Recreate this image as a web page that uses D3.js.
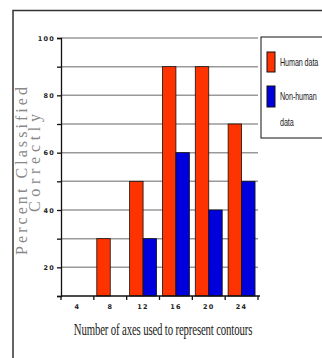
<!DOCTYPE html>
<html><head><meta charset="utf-8">
<script src="https://cdn.jsdelivr.net/npm/d3@7"></script>
<style>body{margin:0;background:#fff;}svg{display:block;}</style>
</head><body>
<script>
const categories = ["4","8","12","16","20","24"];
const humanData = [0,30,50,90,90,70];
const nonHumanData = [0,0,30,60,40,50];
const seriesNames = ["Human data","Non-human data"];
const yTickLabels = [20,40,60,80,100];

const W=322,H=358;
const svg=d3.select("body").append("svg").attr("width",W).attr("height",H);

// outer frame
svg.append("path").attr("d","M13,358 L13,10.5 L322,10.5").attr("fill","none").attr("stroke","#333").attr("stroke-width",1.5);

const x0=61,x1=258,yTop=38,yBot=296;
const x=d3.scaleBand().domain(categories).range([x0,x1]).paddingInner(0.18).paddingOuter(0.09);
const xs=d3.scaleBand().domain(seriesNames).range([0,x.bandwidth()]);
const y=d3.scaleLinear().domain([10,100]).range([yBot,yTop]);
const colors=["#ff3300","#0000dd"];

// gridlines
svg.append("g").selectAll("line").data(d3.range(20,101,10)).join("line")
  .attr("x1",x0).attr("x2",x1).attr("y1",d=>y(d)).attr("y2",d=>y(d))
  .attr("stroke","#999").attr("stroke-width",1.5);

// bars
const data=categories.map((c,i)=>({c,vals:[humanData[i],nonHumanData[i]]}));
svg.append("g").selectAll("g").data(data).join("g")
  .attr("transform",d=>`translate(${x(d.c)},0)`)
  .selectAll("rect").data(d=>d.vals.map((v,j)=>({v,j})).filter(e=>e.v>10)).join("rect")
  .attr("x",e=>xs(seriesNames[e.j])).attr("width",xs.bandwidth())
  .attr("y",e=>y(e.v)).attr("height",e=>y(10)-y(e.v))
  .attr("fill",e=>colors[e.j]).attr("stroke","#111").attr("stroke-width",0.8);

// y axis
const yAxis=d3.axisLeft(y).tickValues(d3.range(10,101,10)).tickSize(4)
  .tickFormat(d=>yTickLabels.includes(d)?d:"");
const ga=svg.append("g").attr("transform",`translate(${x0},0)`).call(yAxis);
ga.select(".domain").attr("stroke","#111").attr("stroke-width",1.3);
ga.selectAll(".tick line").attr("stroke","#111").attr("stroke-width",1.3);
ga.selectAll("text").attr("font-family","DejaVu Sans, sans-serif").attr("font-weight","bold")
  .attr("font-size",6.5).attr("letter-spacing",1.2).attr("fill","#222").attr("x",-6);

// x axis with boundary ticks
const xb=d3.scaleLinear().domain([0,categories.length]).range([x0,x1]);
const gx=svg.append("g").attr("transform",`translate(0,${yBot})`);
gx.append("line").attr("x1",x0).attr("x2",x1+2).attr("stroke","#111").attr("stroke-width",1.5);
gx.selectAll("line.t").data(d3.range(0,categories.length+1)).join("line").attr("class","t")
  .attr("x1",d=>xb(d)).attr("x2",d=>xb(d)).attr("y1",0).attr("y2",4).attr("stroke","#111").attr("stroke-width",1.3);
gx.selectAll("text").data(categories).join("text")
  .attr("x",(d,i)=>(xb(i)+xb(i+1))/2).attr("y",13).attr("text-anchor","middle")
  .attr("font-family","DejaVu Sans, sans-serif").attr("font-weight","bold").attr("font-size",6.5)
  .attr("letter-spacing",1.2).attr("fill","#222").text(d=>d);

// x title
svg.append("text").attr("transform","translate(163,335) scale(1,1.5)")
  .attr("text-anchor","middle").attr("font-family","Liberation Serif, serif")
  .attr("font-size",10.8).attr("letter-spacing",-0.15).attr("fill","#222")
  .text("Number of axes used to represent contours");

// y title
const yt=svg.append("text").attr("transform","rotate(-90)")
  .attr("font-family","Liberation Serif, serif").attr("font-size",16).attr("fill","#888");
yt.append("tspan").attr("x",-255).attr("y",27).attr("textLength",168).attr("lengthAdjust","spacing").text("Percent Classified");
yt.append("tspan").attr("x",-212).attr("y",40).attr("textLength",98).attr("lengthAdjust","spacing").text("Correctly");

// legend
const lg=svg.append("g");
lg.append("rect").attr("x",261).attr("y",37).attr("width",70).attr("height",101)
  .attr("fill","#fff").attr("stroke","#111").attr("stroke-width",1);
lg.selectAll("rect.sw").data(seriesNames).join("rect").attr("class","sw")
  .attr("x",267).attr("y",(d,i)=>52+i*34).attr("width",8).attr("height",(d,i)=>i?21:20)
  .attr("fill",(d,i)=>colors[i]).attr("stroke","#111").attr("stroke-width",1);
const legendLines=[["Human data",66],["Non-human",100],["data",126]];
lg.selectAll("text").data(legendLines).join("text")
  .attr("transform",d=>`translate(280,${d[1]}) scale(1,1.6)`)
  .attr("font-family","Liberation Sans, sans-serif").attr("font-size",7.2).attr("fill","#222")
  .attr("letter-spacing",-0.1).text(d=>d[0]);
</script>
</body></html>
